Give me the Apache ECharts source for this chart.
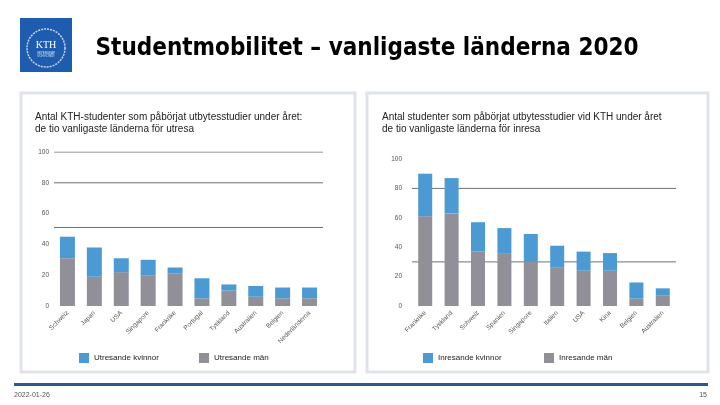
<!DOCTYPE html>
<html><head><meta charset="utf-8">
<script src="https://cdn.jsdelivr.net/npm/echarts@6/dist/echarts.min.js"></script>
<style>html,body{margin:0;padding:0;background:#fff}#c{width:720px;height:405px}</style>
</head><body><div id="c"></div>
<script>
// ---- data ----
const outCountries = ['Schweiz','Japan','USA','Singapore','Frankrike','Portugal','Tyskland','Australien','Belgien','Nederländerna'];
const outWomen = [14, 19, 9, 10, 4, 13, 4, 7, 7, 7];
const outMen   = [31, 19, 22, 20, 21, 5, 10, 6, 5, 5];
const inCountries = ['Frankrike','Tyskland','Schweiz','Spanien','Singapore','Italien','USA','Kina','Belgien','Australien'];
const inWomen = [29, 24, 20, 17, 19, 15, 13, 12, 11, 5];
const inMen   = [61, 63, 37, 36, 30, 26, 24, 24, 5, 7];
const leftLines = [100, 80, 51];
const rightLines = [80, 30];
const title = 'Studentmobilitet – vanligaste länderna 2020';
const leftSub = 'Antal KTH-studenter som påbörjat utbytesstudier under året:\nde tio vanligaste länderna för utresa';
const rightSub = 'Antal studenter som påbörjat utbytesstudier vid KTH under året\nde tio vanligaste länderna för inresa';
const footerDate = '2022-01-26';
const pageNo = '15';

const BLUE = '#4b9ad3', GRAY = '#918f97';
const chart = echarts.init(document.getElementById('c'));
const axisFont = {fontFamily:'Liberation Sans', fontSize:6.5, color:'#555'};
const legendText = {fontFamily:'Liberation Sans', fontSize:8, color:'#222'};
function gridLines(xi, yi, vals){
  return vals.map(v => ({type:'line', xAxisIndex:xi, yAxisIndex:yi, data:[[0,v],[1,v]], z:1, silent:true,
    symbol:'none', lineStyle:{color:'#707070', width:1}}));
}
chart.setOption({
  animation:false,
  title:[{text:title, left:362, top:32, textAlign:'center',
    textStyle:{fontFamily:'"DejaVu Sans Condensed", "Liberation Sans", sans-serif', fontWeight:'bold', fontSize:24, color:'#000'}}],
  graphic:[
    {type:'rect', shape:{x:20,y:18,width:52,height:54}, style:{fill:'#1d5cae'}},
    {type:'circle', shape:{cx:46,cy:48,r:19}, style:{fill:'none', stroke:'#c9d8ee', lineWidth:1.5, lineDash:[2,1]}},
    {type:'text', style:{x:46,y:45,text:'KTH',fill:'#fff',font:'10px Liberation Serif',textAlign:'center',textVerticalAlign:'middle'}},
    {type:'text', style:{x:46,y:55,text:'VETENSKAP\nOCH KONST',fill:'#dfe8f5',font:'3px Liberation Sans',textAlign:'center',textVerticalAlign:'middle'}},
    {type:'rect', shape:{x:21,y:93,width:334,height:279}, style:{fill:'none', stroke:'#dfe4ec', lineWidth:3}},
    {type:'rect', shape:{x:367,y:93,width:341,height:279}, style:{fill:'none', stroke:'#dfe4ec', lineWidth:3}},
    {type:'text', style:{x:35,y:111,text:leftSub,fill:'#222',font:'10px Liberation Sans',lineHeight:12}},
    {type:'text', style:{x:382,y:111,text:rightSub,fill:'#222',font:'10px Liberation Sans',lineHeight:12}},
    {type:'rect', shape:{x:14,y:383,width:694,height:3}, style:{fill:'#2a5a8c'}},
    {type:'text', style:{x:14,y:392,text:footerDate,fill:'#555',font:'7px Liberation Sans'}},
    {type:'text', style:{x:707,y:392,text:pageNo,fill:'#555',font:'7px Liberation Sans',textAlign:'right'}}
  ],
  legend:[
    {data:['Utresande kvinnor'], left:74, top:348, itemWidth:10, itemHeight:10, icon:'rect', textStyle:legendText},
    {data:['Utresande män'], left:194, top:348, itemWidth:10, itemHeight:10, icon:'rect', textStyle:legendText},
    {data:['Inresande kvinnor'], left:418, top:348, itemWidth:10, itemHeight:10, icon:'rect', textStyle:legendText},
    {data:['Inresande män'], left:539, top:348, itemWidth:10, itemHeight:10, icon:'rect', textStyle:legendText}
  ],
  grid:[
    {left:54, width:269, top:152, bottom:99},
    {left:412, width:264, top:159, bottom:99}
  ],
  xAxis:[
    {type:'category', gridIndex:0, data:outCountries, axisLine:{show:false}, axisTick:{show:false},
      axisLabel:Object.assign({rotate:45, interval:0, margin:6}, axisFont)},
    {type:'category', gridIndex:1, data:inCountries, axisLine:{show:false}, axisTick:{show:false},
      axisLabel:Object.assign({rotate:45, interval:0, margin:6}, axisFont)},
    {type:'value', gridIndex:0, min:0, max:1, show:false},
    {type:'value', gridIndex:1, min:0, max:1, show:false}
  ],
  yAxis:[
    {type:'value', gridIndex:0, min:0, max:100, interval:20, splitLine:{show:false}, axisLine:{show:false}, axisTick:{show:false},
      axisLabel:Object.assign({margin:5}, axisFont)},
    {type:'value', gridIndex:1, min:0, max:100, interval:20, splitLine:{show:false}, axisLine:{show:false}, axisTick:{show:false},
      axisLabel:Object.assign({margin:10}, axisFont)}
  ],
  series:[
    ...gridLines(2, 0, leftLines),
    ...gridLines(3, 1, rightLines),
    {name:'Utresande män', type:'bar', stack:'a', xAxisIndex:0, yAxisIndex:0, data:outMen, barWidth:15, itemStyle:{color:GRAY}, z:10},
    {name:'Utresande kvinnor', type:'bar', stack:'a', xAxisIndex:0, yAxisIndex:0, data:outWomen, barWidth:15, itemStyle:{color:BLUE}, z:10},
    {name:'Inresande män', type:'bar', stack:'b', xAxisIndex:1, yAxisIndex:1, data:inMen, barWidth:14, itemStyle:{color:GRAY}, z:10},
    {name:'Inresande kvinnor', type:'bar', stack:'b', xAxisIndex:1, yAxisIndex:1, data:inWomen, barWidth:14, itemStyle:{color:BLUE}, z:10}
  ]
});
</script></body></html>
